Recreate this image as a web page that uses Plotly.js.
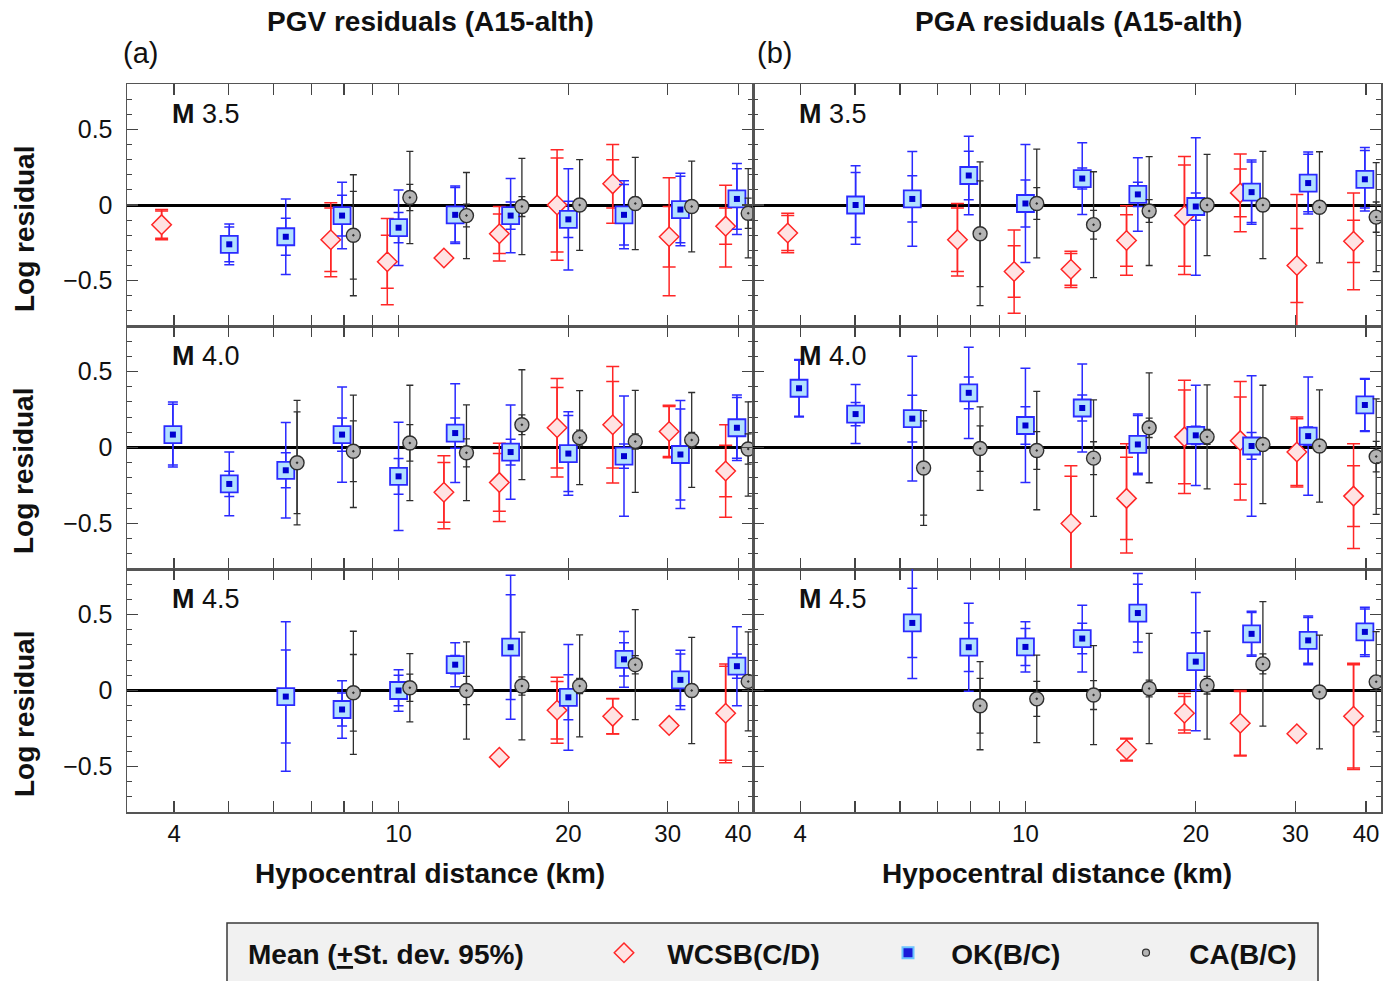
<!DOCTYPE html>
<html><head><meta charset="utf-8">
<script src="https://cdn.plot.ly/plotly-3.0.1.min.js"></script>
<style>html,body{margin:0;padding:0;background:#fff}#chart{width:1392px;height:981px}</style>
</head><body><div id="chart"></div>
<script>
// ---- distance bins (km) and tick labels ----
const DIST = [3.98, 5.01, 6.31, 7.94, 10, 12.6, 15.8, 20, 25.1, 31.6, 39.8];
const XTICKS = [4, 5, 6, 7, 8, 9, 10, 20, 30, 40];
const XTICKTEXT = ['4', '', '', '', '', '', '10', '20', '30', '40'];
const SERIES_NAMES = ['WCSB(C/D)', 'OK(B/C)', 'CA(B/C)'];
const MAG_LABELS = ['3.5', '4.0', '4.5'];
const COL_TITLES = ['PGV residuals (A15-alth)', 'PGA residuals (A15-alth)'];
const _ = null;

// ---- PGV, M3.5 ----
const pgv35_wcsb_mean = [-0.13, _, _, -0.23, -0.375, -0.35, -0.19, 0.0, 0.14, -0.21, -0.14];
const pgv35_wcsb_sd   = [0.09, _, _, 0.21, 0.175, _, 0.13, 0.31, 0.16, 0.2, 0.12];
const pgv35_wcsb_ci   = [0.10, _, _, 0.245, 0.285, _, 0.18, 0.365, 0.26, 0.39, 0.27];
const pgv35_ok_mean   = [_, -0.26, -0.21, -0.07, -0.15, -0.065, -0.07, -0.095, -0.065, -0.03, 0.04];
const pgv35_ok_sd     = [_, 0.115, 0.123, 0.135, 0.10, 0.18, 0.09, 0.12, 0.2, 0.22, 0.2];
const pgv35_ok_ci     = [_, 0.135, 0.25, 0.22, 0.25, 0.19, 0.245, 0.335, 0.225, 0.24, 0.235];
const pgv35_ca_mean   = [_, _, _, -0.2, 0.05, -0.07, -0.01, 0.0, 0.01, -0.01, -0.055];
const pgv35_ca_sd     = [_, _, _, 0.29, 0.087, 0.075, 0.066, 0.03, 0.04, 0.03, 0.1];
const pgv35_ca_ci     = [_, _, _, 0.4, 0.305, 0.285, 0.318, 0.3, 0.305, 0.3, 0.295];

// ---- PGA, M3.5 ----
const pga35_wcsb_mean = [-0.185, _, _, -0.23, -0.44, -0.425, -0.235, -0.07, 0.08, -0.40, -0.24];
const pga35_wcsb_sd   = [0.115, _, _, 0.21, 0.17, 0.105, 0.17, 0.335, 0.158, 0.245, 0.14];
const pga35_wcsb_ci   = [0.13, _, _, 0.24, 0.275, 0.12, 0.23, 0.39, 0.257, 0.47, 0.32];
const pga35_ok_mean   = [_, 0.0, 0.04, 0.195, 0.01, 0.175, 0.07, -0.01, 0.085, 0.145, 0.17];
const pga35_ok_sd     = [_, 0.215, 0.153, 0.16, 0.155, 0.07, 0.08, 0.09, 0.2, 0.19, 0.19];
const pga35_ok_ci     = [_, 0.26, 0.313, 0.26, 0.39, 0.237, 0.243, 0.455, 0.213, 0.205, 0.21];
const pga35_ca_mean   = [_, _, _, -0.19, 0.01, -0.13, -0.04, 0.0, 0.0, -0.015, -0.08];
const pga35_ca_sd     = [_, _, _, 0.35, 0.105, 0.095, 0.075, 0.03, 0.04, 0.03, 0.1];
const pga35_ca_ci     = [_, _, _, 0.475, 0.36, 0.35, 0.36, 0.335, 0.355, 0.367, 0.36];

// ---- PGV, M4.0 ----
const pgv40_wcsb_mean = [_, _, _, _, _, -0.295, -0.23, 0.13, 0.15, 0.105, -0.155];
const pgv40_wcsb_sd   = [_, _, _, _, _, 0.197, 0.19, 0.265, 0.285, 0.165, 0.17];
const pgv40_wcsb_ci   = [_, _, _, _, _, 0.24, 0.258, 0.325, 0.383, 0.173, 0.305];
const pgv40_ok_mean   = [0.085, -0.24, -0.15, 0.085, -0.19, 0.095, -0.03, -0.04, -0.057, -0.046, 0.13];
const pgv40_ok_sd     = [0.2, 0.083, 0.115, 0.11, 0.117, 0.1, 0.085, 0.25, 0.08, 0.3, 0.2];
const pgv40_ok_ci     = [0.214, 0.21, 0.315, 0.313, 0.357, 0.325, 0.31, 0.275, 0.396, 0.356, 0.215];
const pgv40_ca_mean   = [_, _, -0.1, -0.025, 0.03, -0.035, 0.15, 0.065, 0.04, 0.05, -0.01];
const pgv40_ca_sd     = [_, _, 0.335, 0.2, 0.12, 0.092, 0.065, 0.05, 0.05, 0.05, 0.1];
const pgv40_ca_ci     = [_, _, 0.41, 0.37, 0.38, 0.315, 0.362, 0.31, 0.336, 0.312, 0.31];

// ---- PGA, M4.0 ----
const pga40_wcsb_mean = [_, _, _, _, _, -0.5, -0.335, 0.07, 0.045, -0.03, -0.32];
const pga40_wcsb_sd   = [_, _, _, _, _, 0.31, 0.27, 0.308, 0.287, 0.22, 0.2];
const pga40_wcsb_ci   = [_, _, _, _, _, 0.38, 0.36, 0.373, 0.39, 0.23, 0.345];
const pga40_ok_mean   = [0.39, 0.22, 0.19, 0.36, 0.145, 0.26, 0.02, 0.08, 0.01, 0.075, 0.28];
const pga40_ok_sd     = [0.185, 0.077, 0.154, 0.105, 0.123, 0.085, 0.19, 0.06, 0.088, 0.06, 0.17];
const pga40_ok_ci     = [0.19, 0.194, 0.411, 0.3, 0.376, 0.29, 0.2, 0.33, 0.463, 0.39, 0.175];
const pga40_ca_mean   = [_, _, -0.135, -0.007, -0.02, -0.07, 0.13, 0.07, 0.02, 0.01, -0.06];
const pga40_ca_sd     = [_, _, 0.31, 0.15, 0.124, 0.108, 0.064, 0.05, 0.04, 0.04, 0.1];
const pga40_ca_ci     = [_, _, 0.378, 0.275, 0.39, 0.383, 0.362, 0.343, 0.39, 0.37, 0.38];

// ---- PGV, M4.5 ----
const pgv45_wcsb_mean = [_, _, _, _, _, _, -0.44, -0.13, -0.17, -0.23, -0.15];
const pgv45_wcsb_sd   = [_, _, _, _, _, _, _, 0.19, 0.115, _, 0.31];
const pgv45_wcsb_ci   = [_, _, _, _, _, _, _, 0.218, 0.117, _, 0.325];
const pgv45_ok_mean   = [_, _, -0.04, -0.125, 0.0, 0.17, 0.285, -0.045, 0.205, 0.07, 0.16];
const pgv45_ok_sd     = [_, _, 0.306, 0.108, 0.1, 0.06, 0.345, 0.148, 0.11, 0.17, 0.08];
const pgv45_ok_ci     = [_, _, 0.492, 0.19, 0.136, 0.145, 0.474, 0.348, 0.184, 0.195, 0.26];
const pgv45_ca_mean   = [_, _, _, -0.015, 0.018, 0.0, 0.03, 0.03, 0.17, 0.0, 0.06];
const pgv45_ca_sd     = [_, _, _, 0.252, 0.09, 0.093, 0.06, 0.05, 0.06, 0.04, 0.03];
const pgv45_ca_ci     = [_, _, _, 0.405, 0.225, 0.32, 0.355, 0.336, 0.362, 0.35, 0.326];

// ---- PGA, M4.5 ----
const pga45_wcsb_mean = [_, _, _, _, _, _, -0.39, -0.15, -0.216, -0.285, -0.17];
const pga45_wcsb_sd   = [_, _, _, _, _, _, 0.07, 0.11, 0.21, _, 0.34];
const pga45_wcsb_ci   = [_, _, _, _, _, _, 0.075, 0.13, 0.216, _, 0.35];
const pga45_ok_mean   = [_, _, 0.445, 0.285, 0.287, 0.342, 0.51, 0.19, 0.373, 0.33, 0.386];
const pga45_ok_sd     = [_, _, 0.228, 0.16, 0.122, 0.1, 0.19, 0.19, 0.14, 0.15, 0.15];
const pga45_ok_ci     = [_, _, 0.366, 0.29, 0.165, 0.22, 0.26, 0.455, 0.148, 0.16, 0.162];
const pga45_ca_mean   = [_, _, _, -0.1, -0.055, -0.03, 0.013, 0.035, 0.175, -0.01, 0.057];
const pga45_ca_sd     = [_, _, _, 0.18, 0.115, 0.095, 0.055, 0.058, 0.066, 0.04, 0.03];
const pga45_ca_ci     = [_, _, _, 0.29, 0.288, 0.326, 0.363, 0.355, 0.41, 0.374, 0.33];

// panels in subplot order: row by row, left (PGV) then right (PGA)
const PANELS = [
  [[pgv35_wcsb_mean, pgv35_wcsb_sd, pgv35_wcsb_ci], [pgv35_ok_mean, pgv35_ok_sd, pgv35_ok_ci], [pgv35_ca_mean, pgv35_ca_sd, pgv35_ca_ci]],
  [[pga35_wcsb_mean, pga35_wcsb_sd, pga35_wcsb_ci], [pga35_ok_mean, pga35_ok_sd, pga35_ok_ci], [pga35_ca_mean, pga35_ca_sd, pga35_ca_ci]],
  [[pgv40_wcsb_mean, pgv40_wcsb_sd, pgv40_wcsb_ci], [pgv40_ok_mean, pgv40_ok_sd, pgv40_ok_ci], [pgv40_ca_mean, pgv40_ca_sd, pgv40_ca_ci]],
  [[pga40_wcsb_mean, pga40_wcsb_sd, pga40_wcsb_ci], [pga40_ok_mean, pga40_ok_sd, pga40_ok_ci], [pga40_ca_mean, pga40_ca_sd, pga40_ca_ci]],
  [[pgv45_wcsb_mean, pgv45_wcsb_sd, pgv45_wcsb_ci], [pgv45_ok_mean, pgv45_ok_sd, pgv45_ok_ci], [pgv45_ca_mean, pgv45_ca_sd, pgv45_ca_ci]],
  [[pga45_wcsb_mean, pga45_wcsb_sd, pga45_wcsb_ci], [pga45_ok_mean, pga45_ok_sd, pga45_ok_ci], [pga45_ca_mean, pga45_ca_sd, pga45_ca_ci]]
];

// ---- styling ----
const W = 1392, H = 981;
const FONT = 'Liberation Sans, Arial, Helvetica, sans-serif';
const fx = p => p / W;
const fy = p => 1 - p / H;
const COLX = [[127, 753], [753, 1381]];
const ROWY = [[84, 326], [326, 569], [569, 812]];
const DODGE = [Math.pow(10, -0.02), 1, Math.pow(10, 0.02)];
const STY = [
  {line: '#ff2626', fill: '#ffe3e3', symbol: 'diamond', size: 15, lw: 1.5, cap: 6.5, th: 1.5},
  {line: '#2a2aff', fill: '#b2e0ff', symbol: 'square', size: 17, lw: 1.8, cap: 5, th: 1.5},
  {line: '#2e2e2e', fill: '#b4b4b4', symbol: 'circle-dot', size: 14, lw: 1.4, cap: 3.5, th: 1.3}
];
const nanify = a => a.map(v => (v === null ? NaN : v));

const traces = [];
const layout = {
  width: W, height: H,
  margin: {l: 0, r: 0, t: 0, b: 0},
  paper_bgcolor: '#ffffff', plot_bgcolor: '#ffffff',
  font: {family: FONT, color: '#111', size: 22},
  showlegend: true,
  annotations: [], shapes: []
};

PANELS.forEach((panel, k) => {
  const n = k + 1;
  const row = Math.floor(k / 2), col = k % 2;
  const xa = 'x' + (n === 1 ? '' : n), ya = 'y' + (n === 1 ? '' : n);
  layout['xaxis' + (n === 1 ? '' : n)] = {
    domain: [fx(COLX[col][0]), fx(COLX[col][1])],
    anchor: ya, type: 'log',
    range: [Math.log10(3.3), Math.log10(42.5)],
    tickmode: 'array', tickvals: XTICKS, ticktext: XTICKTEXT,
    ticks: 'inside', ticklen: 11, tickwidth: 1.3, tickcolor: '#444',
    showline: true, linecolor: '#555', linewidth: 1.5, mirror: 'ticks',
    showgrid: false, zeroline: false,
    showticklabels: row === 2, ticklabelstandoff: 0,
    tickfont: {size: 24, color: '#111', family: FONT}, fixedrange: true
  };
  layout['yaxis' + (n === 1 ? '' : n)] = {
    domain: [fy(ROWY[row][1]), fy(ROWY[row][0])],
    anchor: xa, range: [-0.8, 0.8],
    tickmode: 'linear', tick0: 0, dtick: 0.5,
    ticks: 'inside', ticklen: 11, tickwidth: 1.3, tickcolor: '#444',
    minor: {tickmode: 'linear', tick0: 0, dtick: 0.1, ticks: 'inside', ticklen: 5, tickwidth: 1.1, tickcolor: '#444'},
    showline: true, linecolor: '#555', linewidth: 1.5, mirror: 'ticks',
    showgrid: false, zeroline: true, zerolinecolor: '#000', zerolinewidth: 3,
    showticklabels: col === 0, ticklabelstandoff: 8,
    tickfont: {size: 25, color: '#111', family: FONT}, fixedrange: true
  };

  panel.forEach((ser, s) => {
    const st = STY[s];
    const xs = DIST.map(d => d * DODGE[s]);
    const [mean, sd, ci] = ser;
    // inner (st. dev.) error bars
    traces.push({
      x: xs, y: mean, xaxis: xa, yaxis: ya, type: 'scatter', mode: 'markers',
      marker: {size: 2, opacity: 0}, showlegend: false, hoverinfo: 'skip',
      error_y: {type: 'data', array: nanify(sd), visible: true, color: st.line, thickness: st.th, width: st.cap}
    });
    // outer (95%) error bars + mean marker
    traces.push({
      x: xs, y: mean, xaxis: xa, yaxis: ya, type: 'scatter', mode: 'markers',
      name: SERIES_NAMES[s], showlegend: false,
      marker: {symbol: st.symbol, size: st.size, color: st.fill, line: {color: st.line, width: st.lw}},
      error_y: {type: 'data', array: nanify(ci), visible: true, color: st.line, thickness: st.th, width: st.cap}
    });
    if (s === 1) {
      traces.push({
        x: xs, y: mean, xaxis: xa, yaxis: ya, type: 'scatter', mode: 'markers',
        showlegend: false, hoverinfo: 'skip',
        marker: {symbol: 'square', size: 6, color: '#0000d0'}
      });
    }
  });

  // magnitude label, centred 30 px below the panel top
  layout.annotations.push({
    xref: xa + ' domain', yref: ya + ' domain',
    x: col === 0 ? 0.069 : 0.07, y: (242 - 30) / 242,
    xanchor: 'left', yanchor: 'middle', showarrow: false,
    text: '<b>M</b> ' + MAG_LABELS[row], font: {size: 27, family: FONT, color: '#111'}
  });
});

// legend-only entries
const LEG = [
  {name: SERIES_NAMES[0], symbol: 'diamond', size: 15, color: '#ffe3e3', line: '#ff2626', lw: 1.5, key: 'legend', x: 604},
  {name: SERIES_NAMES[1], symbol: 'square', size: 11, color: '#1a1ad8', line: '#6cc4ff', lw: 2, key: 'legend2', x: 888},
  {name: SERIES_NAMES[2], symbol: 'circle', size: 7, color: '#b4b4b4', line: '#333', lw: 1.2, key: 'legend3', x: 1126}
];
LEG.forEach(l => {
  traces.push({
    x: [null], y: [null], type: 'scatter', mode: 'markers', xaxis: 'x', yaxis: 'y',
    name: '\u00a0\u00a0\u00a0<b>' + l.name + '</b>', legend: l.key, showlegend: true,
    marker: {symbol: l.symbol, size: l.size, color: l.color, line: {color: l.line, width: l.lw}}
  });
  layout[l.key] = {
    x: fx(l.x), y: fy(953), xanchor: 'left', yanchor: 'middle',
    orientation: 'h', bgcolor: 'rgba(0,0,0,0)', borderwidth: 0,
    itemsizing: 'trace', font: {size: 28, family: FONT, color: '#111'}
  };
});

// legend box
layout.shapes.push({
  type: 'rect', xref: 'paper', yref: 'paper', layer: 'below',
  x0: fx(227), x1: fx(1318), y0: fy(990), y1: fy(923),
  fillcolor: '#f1f1f1', line: {color: '#3a3a3a', width: 1.5}
});

const A = (text, x, y, size, extra) => Object.assign({
  text, x: fx(x), y: fy(y), xref: 'paper', yref: 'paper', showarrow: false,
  xanchor: 'center', yanchor: 'middle', font: {size, family: FONT, color: '#111'}
}, extra || {});

layout.annotations.push(
  A('<b>' + COL_TITLES[0] + '</b>', 430, 22, 28),
  A('<b>' + COL_TITLES[1] + '</b>', 1078, 22, 28),
  A('(a)', 140, 53, 29),
  A('(b)', 774, 53, 29),
  A('<b>Hypocentral distance (km)</b>', 430, 873, 28),
  A('<b>Hypocentral distance (km)</b>', 1057, 873, 28),
  A('<b>Log residual</b>', 24, 229, 28, {textangle: -90}),
  A('<b>Log residual</b>', 24, 471, 28, {textangle: -90}),
  A('<b>Log residual</b>', 24, 714, 28, {textangle: -90}),
  A('<b>Mean (<u>+</u>St. dev. 95%)</b>', 246, 954, 28, {xanchor: 'left'})
);

Plotly.newPlot('chart', traces, layout, {staticPlot: true, displayModeBar: false});
</script>
</body></html>
